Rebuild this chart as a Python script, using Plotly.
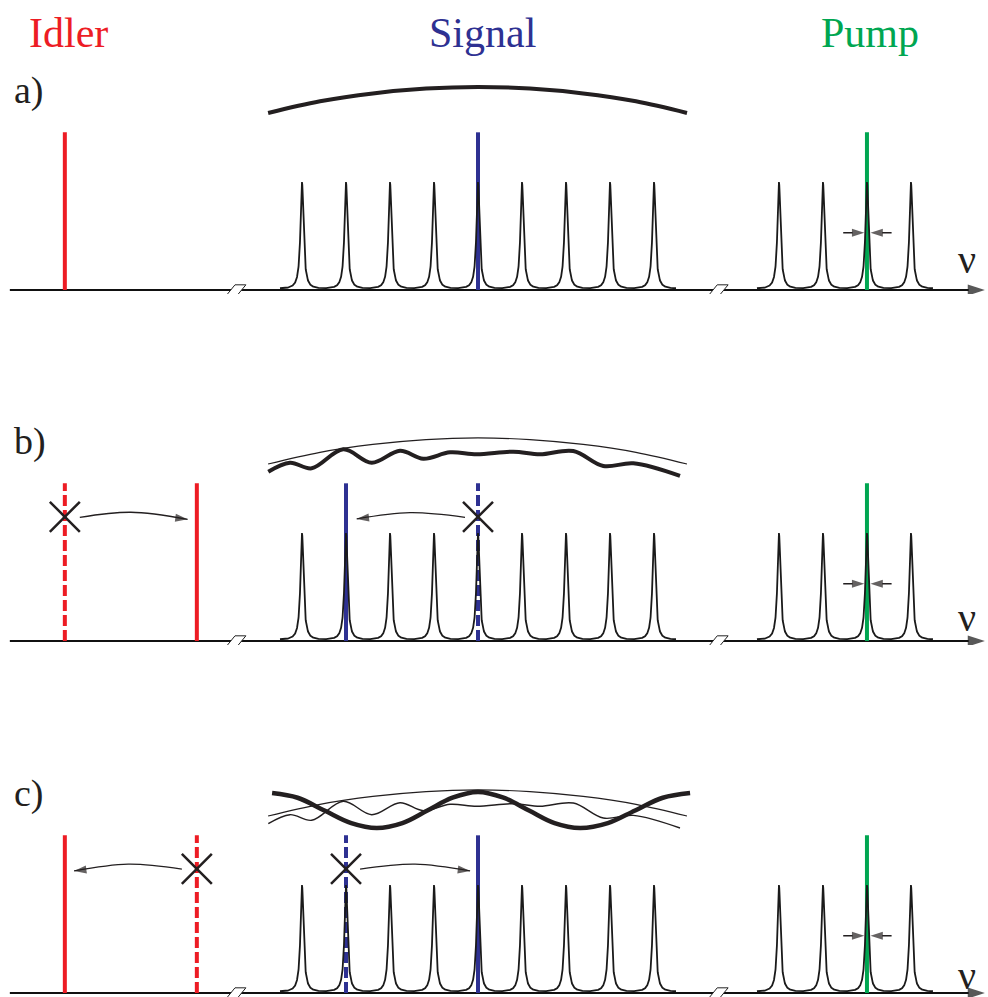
import numpy as np
import plotly.graph_objects as go

# Frequency axis in units of the cavity free spectral range, centred on the signal mode.
signal_modes = [-4, -3, -2, -1, 0, 1, 2, 3, 4]
pump_modes = [6.84, 7.84, 8.84, 9.84]
airy_coeff = 60  # sharpness of the cavity resonances

pump_line = 8.84
idler_solid = [-9.39, -6.39, -9.39]
idler_dashed = [None, -9.39, -6.39]
signal_solid = [0.0, -3.0, 0.0]
signal_dashed = [None, 0.0, -3.0]
line_top = 1.46
cross_y = 1.15

axis_start, axis_end = -10.64, 11.52
axis_breaks = [-5.5, 5.46]

# phase-matching envelope
gain_u = [-4.77, -3.59, -2.39, -1.18, 0.0, 1.18, 2.39, 3.59, 4.75]
gain_y = [1.639, 1.747, 1.820, 1.865, 1.880, 1.865, 1.820, 1.747, 1.639]

# perturbed envelope
wave_u = [-4.766, -4.273, -3.780, -3.061, -2.416, -1.773, -1.243, -0.636, -0.030,
          0.802, 1.409, 2.166, 2.848, 3.530, 4.591]
wave_y = [1.568, 1.651, 1.599, 1.775, 1.651, 1.762, 1.688, 1.747, 1.729,
          1.753, 1.729, 1.759, 1.620, 1.645, 1.528]

# strongly oscillating envelope
osc_u = [-4.68, -4.10, -3.49, -2.88, -2.30, -1.72, -1.15, -0.58, 0.0,
         0.58, 1.16, 1.74, 2.32, 2.95, 3.57, 4.20, 4.82]
osc_y = [1.852, 1.808, 1.690, 1.573, 1.528, 1.573, 1.690, 1.808, 1.861,
         1.808, 1.690, 1.573, 1.528, 1.573, 1.690, 1.808, 1.852]

# energy-transfer arrows (start, middle, end) for panels b and c
transfer_arrows = [
    (1, [-9.05, -7.89, -6.60], [1.145, 1.192, 1.127]),
    (1, [-0.295, -1.545, -2.757], [1.145, 1.188, 1.130]),
    (2, [-6.73, -7.95, -9.18], [1.148, 1.194, 1.130]),
    (2, [-2.68, -1.43, -0.18], [1.148, 1.194, 1.130]),
]

fwhm_y = 0.53
panel_labels = ["a)", "b)", "c)"]
nu_y = [0.287, 0.22, 0.16]

RED = "#ED1C24"
BLUE = "#2E3192"
GREEN = "#00A651"
INK = "#231F20"
SERIF = "Liberation Serif, Times New Roman, serif"

# ---- layout geometry (pixels) ----
W, H = 988, 997
baselines = [290, 641, 993]
PX_X, PX_Y = 44.0, 108.0
x_origin = 478
above, below = 250, 4


def comb(modes):
    xs, ys = [], []
    for m in modes:
        x = np.linspace(m - 0.5, m + 0.5, 301)
        y = 1.0 / (1.0 + airy_coeff * np.sin(np.pi * (x - m)) ** 2)
        xs.append(x)
        ys.append(y)
    return np.concatenate(xs), np.concatenate(ys)


fig = go.Figure()
yaxes = ["y", "y2", "y3"]

for p, ya in enumerate(yaxes):
    def add(**kw):
        fig.add_trace(go.Scatter(xaxis="x", yaxis=ya, hoverinfo="skip", **kw))

    # axis line with arrow tip
    add(x=[axis_start, axis_end], y=[0, 0], mode="lines+markers",
        line=dict(color="#111111", width=2),
        marker=dict(symbol="arrow", size=[0, 18], angleref="previous",
                    color="#111111", line=dict(width=0)))
    # axis breaks
    for b in axis_breaks:
        add(x=[b - 0.215, b - 0.023, b + 0.225, b + 0.030, b - 0.215],
            y=[-0.048, 0.048, 0.048, -0.048, -0.048], mode="lines",
            fill="toself", fillcolor="white", line=dict(color="#222222", width=1))

    # laser lines
    def vline(u, color, dashed):
        if u is None:
            return
        add(x=[u, u], y=[0, line_top], mode="lines",
            line=dict(color=color, width=4, dash="11px,4px" if dashed else "solid"))

    vline(idler_solid[p], RED, False)
    vline(idler_dashed[p], RED, True)
    vline(signal_solid[p], BLUE, False)
    vline(signal_dashed[p], BLUE, True)
    vline(pump_line, GREEN, False)

    # cavity resonances
    for modes in (signal_modes, pump_modes):
        cx, cy = comb(modes)
        add(x=cx, y=cy, mode="lines", line=dict(color="#1a1a1a", width=1.8))

    # linewidth arrows
    for xs in ([pump_line - 0.54, pump_line - 0.06], [pump_line + 0.56, pump_line + 0.08]):
        add(x=xs, y=[fwhm_y, fwhm_y], mode="lines+markers",
            line=dict(color=INK, width=1.5),
            marker=dict(symbol="arrow", size=[0, 13], angleref="previous",
                        color=INK, line=dict(width=0)))

    # envelopes
    if p == 0:
        add(x=gain_u, y=gain_y, mode="lines", line=dict(color=INK, width=4, shape="spline"))
    elif p == 1:
        add(x=gain_u, y=gain_y, mode="lines", line=dict(color=INK, width=1.2, shape="spline"))
        add(x=wave_u, y=wave_y, mode="lines", line=dict(color=INK, width=4, shape="spline"))
    else:
        add(x=gain_u, y=gain_y, mode="lines", line=dict(color=INK, width=1.2, shape="spline"))
        add(x=wave_u, y=wave_y, mode="lines", line=dict(color=INK, width=1.4, shape="spline"))
        add(x=osc_u, y=osc_y, mode="lines", line=dict(color=INK, width=4.5, shape="spline"))

    # suppressed modes
    dashed = [u for u in (idler_dashed[p], signal_dashed[p]) if u is not None]
    if dashed:
        add(x=dashed, y=[cross_y] * len(dashed), mode="markers",
            marker=dict(symbol="x-thin", size=30, line=dict(color=INK, width=2.5)))

for panel, xs, ys in transfer_arrows:
    fig.add_trace(go.Scatter(
        x=xs, y=ys, xaxis="x", yaxis=yaxes[panel], mode="lines+markers", hoverinfo="skip",
        line=dict(color=INK, width=1.3, shape="spline"),
        marker=dict(symbol="arrow", size=[0, 0, 13], angleref="previous",
                    color=INK, line=dict(width=0))))

annotations = []
for p, ya in enumerate(yaxes):
    annotations.append(dict(x=(12 - x_origin) / PX_X, y=1.85, xref="x", yref=ya,
                            text=panel_labels[p], showarrow=False, xanchor="left",
                            yanchor="middle", font=dict(family=SERIF, size=38, color=INK)))
    annotations.append(dict(x=11.11, y=nu_y[p], xref="x", yref=ya, text="ν",
                            showarrow=False, xanchor="center", yanchor="middle",
                            font=dict(family=SERIF, size=40, color=INK)))

for text, u, color in (("Idler", -9.3, RED), ("Signal", 0.1, BLUE), ("Pump", 8.9, GREEN)):
    annotations.append(dict(x=u, y=1 - 33 / H, xref="x", yref="paper", text=text,
                            showarrow=False, xanchor="center", yanchor="middle",
                            font=dict(family=SERIF, size=42, color=color)))

layout_axes = {}
for p, b in enumerate(baselines):
    key = "yaxis" if p == 0 else f"yaxis{p + 1}"
    layout_axes[key] = dict(domain=[1 - (b + below) / H, 1 - (b - above) / H],
                            range=[-below / PX_Y, above / PX_Y], anchor="x",
                            visible=False, fixedrange=True)

fig.update_layout(
    width=W, height=H, margin=dict(l=0, r=0, t=0, b=0),
    paper_bgcolor="white", plot_bgcolor="white", showlegend=False,
    xaxis=dict(domain=[0, 1], range=[-x_origin / PX_X, (W - x_origin) / PX_X],
               visible=False, fixedrange=True),
    annotations=annotations,
    **layout_axes,
)

fig.write_html("out.html")
